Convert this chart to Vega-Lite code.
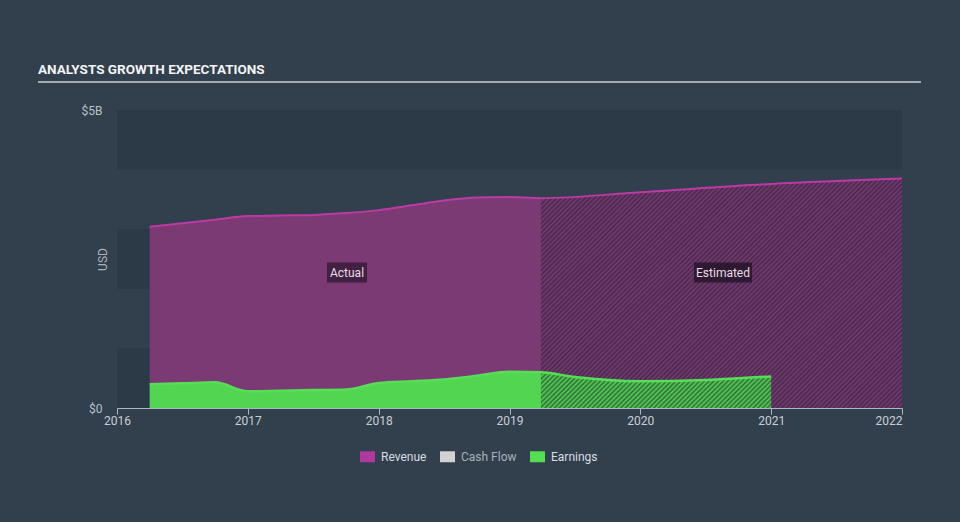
{
  "$schema": "https://vega.github.io/schema/vega-lite/v6.json",
  "width": 785,
  "height": 298,
  "autosize": {"type": "none"},
  "padding": {"left": 117, "top": 110, "right": 58, "bottom": 114},
  "background": "#323f4d",
  "config": {"view": {"stroke": null}, "font": "Roboto"},
  "title": {
    "text": "ANALYSTS GROWTH EXPECTATIONS",
    "anchor": "start",
    "frame": "group",
    "font": "Roboto",
    "fontSize": 13.5,
    "fontWeight": "bold",
    "color": "#f2f4f6",
    "dx": -79,
    "offset": -7,
    "baseline": "alphabetic"
  },
  "datasets": {
    "fin": [
      {"date": 2016.25, "series": "Revenue", "value": 3040000000},
      {"date": 2016.5, "series": "Revenue", "value": 3100000000},
      {"date": 2016.75, "series": "Revenue", "value": 3160000000},
      {"date": 2017.0, "series": "Revenue", "value": 3220000000},
      {"date": 2017.25, "series": "Revenue", "value": 3230000000},
      {"date": 2017.5, "series": "Revenue", "value": 3240000000},
      {"date": 2017.75, "series": "Revenue", "value": 3270000000},
      {"date": 2018.0, "series": "Revenue", "value": 3320000000},
      {"date": 2018.25, "series": "Revenue", "value": 3400000000},
      {"date": 2018.5, "series": "Revenue", "value": 3480000000},
      {"date": 2018.75, "series": "Revenue", "value": 3530000000},
      {"date": 2019.0, "series": "Revenue", "value": 3540000000},
      {"date": 2019.24, "series": "Revenue", "value": 3520000000},
      {"date": 2020.0, "series": "Revenue", "value": 3620000000},
      {"date": 2021.0, "series": "Revenue", "value": 3760000000},
      {"date": 2022.0, "series": "Revenue", "value": 3850000000},
      {"date": 2016.25, "series": "Earnings", "value": 400000000},
      {"date": 2016.5, "series": "Earnings", "value": 415000000},
      {"date": 2016.75, "series": "Earnings", "value": 430000000},
      {"date": 2017.0, "series": "Earnings", "value": 280000000},
      {"date": 2017.25, "series": "Earnings", "value": 290000000},
      {"date": 2017.5, "series": "Earnings", "value": 300000000},
      {"date": 2017.75, "series": "Earnings", "value": 310000000},
      {"date": 2018.0, "series": "Earnings", "value": 420000000},
      {"date": 2018.25, "series": "Earnings", "value": 450000000},
      {"date": 2018.5, "series": "Earnings", "value": 480000000},
      {"date": 2018.75, "series": "Earnings", "value": 540000000},
      {"date": 2019.0, "series": "Earnings", "value": 610000000},
      {"date": 2019.24, "series": "Earnings", "value": 600000000},
      {"date": 2019.5, "series": "Earnings", "value": 520000000},
      {"date": 2020.0, "series": "Earnings", "value": 450000000},
      {"date": 2020.5, "series": "Earnings", "value": 470000000},
      {"date": 2021.0, "series": "Earnings", "value": 530000000}
    ],
    "bands": [
      {"lo": 0, "hi": 1000000000},
      {"lo": 2000000000, "hi": 3000000000},
      {"lo": 4000000000, "hi": 5000000000}
    ],
    "notes": [
      {"label": "Actual", "date": 2017.758, "value": 2273000000},
      {"label": "Estimated", "date": 2020.632, "value": 2273000000}
    ]
  },
  "layer": [
    {
      "data": {"name": "bands"},
      "mark": {"type": "rect", "color": "#2c3947"},
      "encoding": {
        "x": {
          "datum": 2016, "type": "quantitative",
          "scale": {"domain": [2016, 2022], "nice": false},
          "axis": {
            "title": null,
            "values": [2016, 2017, 2018, 2019, 2020, 2021, 2022],
            "format": "d",
            "grid": false,
            "domainColor": "#aeb7bf",
            "tickColor": "#aeb7bf",
            "tickSize": 6,
            "labelColor": "#c8cfd6",
            "labelFont": "Roboto",
            "labelFontSize": 12,
            "labelPadding": 1,
            "labelOverlap": false,
            "labelAlign": {"condition": {"test": "datum.value === 2022", "value": "right"}, "value": "center"}
          }
        },
        "x2": {"datum": 2022},
        "y": {
          "field": "lo", "type": "quantitative",
          "scale": {"domain": [0, 5000000000], "nice": false},
          "axis": {
            "title": "USD",
            "values": [0, 5000000000],
            "labelExpr": "datum.value === 0 ? '$0' : '$5B'",
            "grid": false,
            "domain": false,
            "ticks": false,
            "labelPadding": 15,
            "labelColor": "#b9c1c8",
            "labelFont": "Roboto",
            "labelFontSize": 12,
            "titleColor": "#aab2ba",
            "titleFont": "Roboto",
            "titleFontSize": 12,
            "titleFontWeight": "normal",
            "titleX": -14.5,
            "titleY": 149,
            "titleAlign": "center",
            "titleBaseline": "middle",
            "titleAngle": -90
          }
        },
        "y2": {"field": "hi"}
      }
    },
    {
      "data": {"name": "fin"},
      "transform": [{"filter": "datum.series === 'Revenue'"}],
      "mark": {"type": "area", "color": "#7b3a74", "interpolate": "monotone"},
      "encoding": {
        "x": {"field": "date", "type": "quantitative", "scale": {"domain": [2016, 2022], "nice": false}},
        "y": {"field": "value", "type": "quantitative", "scale": {"domain": [0, 5000000000], "nice": false}}
      }
    },
    {
      "data": {"name": "fin"},
      "transform": [{"filter": "datum.series === 'Earnings'"}],
      "mark": {"type": "area", "color": "#52d652", "interpolate": "monotone"},
      "encoding": {
        "x": {"field": "date", "type": "quantitative", "scale": {"domain": [2016, 2022], "nice": false}},
        "y": {"field": "value", "type": "quantitative", "scale": {"domain": [0, 5000000000], "nice": false}}
      }
    },
    {
      "data": {"name": "fin"},
      "transform": [{"filter": "datum.series === 'Revenue' && datum.date >= 2019.24"}],
      "mark": {
        "type": "area",
        "interpolate": "monotone",
        "fill": {
          "gradient": "linear",
          "x1": 0, "y1": 0, "x2": 1.1645, "y2": 0.7418,
          "stops": [
            {"offset": 0, "color": "#1e1e2d00"}, {"offset": 0.004, "color": "#1e1e2d99"}, {"offset": 0.008, "color": "#1e1e2d00"}, {"offset": 0.012, "color": "#1e1e2d99"}, {"offset": 0.016, "color": "#1e1e2d00"}, {"offset": 0.02, "color": "#1e1e2d99"}, {"offset": 0.024, "color": "#1e1e2d00"}, {"offset": 0.028, "color": "#1e1e2d99"}, {"offset": 0.032, "color": "#1e1e2d00"}, {"offset": 0.036, "color": "#1e1e2d99"},
            {"offset": 0.04, "color": "#1e1e2d00"}, {"offset": 0.044, "color": "#1e1e2d99"}, {"offset": 0.048, "color": "#1e1e2d00"}, {"offset": 0.052, "color": "#1e1e2d99"}, {"offset": 0.056, "color": "#1e1e2d00"}, {"offset": 0.06, "color": "#1e1e2d99"}, {"offset": 0.064, "color": "#1e1e2d00"}, {"offset": 0.068, "color": "#1e1e2d99"}, {"offset": 0.072, "color": "#1e1e2d00"}, {"offset": 0.076, "color": "#1e1e2d99"},
            {"offset": 0.08, "color": "#1e1e2d00"}, {"offset": 0.084, "color": "#1e1e2d99"}, {"offset": 0.088, "color": "#1e1e2d00"}, {"offset": 0.092, "color": "#1e1e2d99"}, {"offset": 0.096, "color": "#1e1e2d00"}, {"offset": 0.1, "color": "#1e1e2d99"}, {"offset": 0.104, "color": "#1e1e2d00"}, {"offset": 0.108, "color": "#1e1e2d99"}, {"offset": 0.112, "color": "#1e1e2d00"}, {"offset": 0.116, "color": "#1e1e2d99"},
            {"offset": 0.12, "color": "#1e1e2d00"}, {"offset": 0.124, "color": "#1e1e2d99"}, {"offset": 0.128, "color": "#1e1e2d00"}, {"offset": 0.132, "color": "#1e1e2d99"}, {"offset": 0.136, "color": "#1e1e2d00"}, {"offset": 0.14, "color": "#1e1e2d99"}, {"offset": 0.144, "color": "#1e1e2d00"}, {"offset": 0.148, "color": "#1e1e2d99"}, {"offset": 0.152, "color": "#1e1e2d00"}, {"offset": 0.156, "color": "#1e1e2d99"},
            {"offset": 0.16, "color": "#1e1e2d00"}, {"offset": 0.164, "color": "#1e1e2d99"}, {"offset": 0.168, "color": "#1e1e2d00"}, {"offset": 0.172, "color": "#1e1e2d99"}, {"offset": 0.176, "color": "#1e1e2d00"}, {"offset": 0.18, "color": "#1e1e2d99"}, {"offset": 0.184, "color": "#1e1e2d00"}, {"offset": 0.188, "color": "#1e1e2d99"}, {"offset": 0.192, "color": "#1e1e2d00"}, {"offset": 0.196, "color": "#1e1e2d99"},
            {"offset": 0.2, "color": "#1e1e2d00"}, {"offset": 0.204, "color": "#1e1e2d99"}, {"offset": 0.208, "color": "#1e1e2d00"}, {"offset": 0.212, "color": "#1e1e2d99"}, {"offset": 0.216, "color": "#1e1e2d00"}, {"offset": 0.22, "color": "#1e1e2d99"}, {"offset": 0.224, "color": "#1e1e2d00"}, {"offset": 0.228, "color": "#1e1e2d99"}, {"offset": 0.232, "color": "#1e1e2d00"}, {"offset": 0.236, "color": "#1e1e2d99"},
            {"offset": 0.24, "color": "#1e1e2d00"}, {"offset": 0.244, "color": "#1e1e2d99"}, {"offset": 0.248, "color": "#1e1e2d00"}, {"offset": 0.252, "color": "#1e1e2d99"}, {"offset": 0.256, "color": "#1e1e2d00"}, {"offset": 0.26, "color": "#1e1e2d99"}, {"offset": 0.264, "color": "#1e1e2d00"}, {"offset": 0.268, "color": "#1e1e2d99"}, {"offset": 0.272, "color": "#1e1e2d00"}, {"offset": 0.276, "color": "#1e1e2d99"},
            {"offset": 0.28, "color": "#1e1e2d00"}, {"offset": 0.284, "color": "#1e1e2d99"}, {"offset": 0.288, "color": "#1e1e2d00"}, {"offset": 0.292, "color": "#1e1e2d99"}, {"offset": 0.296, "color": "#1e1e2d00"}, {"offset": 0.3, "color": "#1e1e2d99"}, {"offset": 0.304, "color": "#1e1e2d00"}, {"offset": 0.308, "color": "#1e1e2d99"}, {"offset": 0.312, "color": "#1e1e2d00"}, {"offset": 0.316, "color": "#1e1e2d99"},
            {"offset": 0.32, "color": "#1e1e2d00"}, {"offset": 0.324, "color": "#1e1e2d99"}, {"offset": 0.328, "color": "#1e1e2d00"}, {"offset": 0.332, "color": "#1e1e2d99"}, {"offset": 0.336, "color": "#1e1e2d00"}, {"offset": 0.34, "color": "#1e1e2d99"}, {"offset": 0.344, "color": "#1e1e2d00"}, {"offset": 0.348, "color": "#1e1e2d99"}, {"offset": 0.352, "color": "#1e1e2d00"}, {"offset": 0.356, "color": "#1e1e2d99"},
            {"offset": 0.36, "color": "#1e1e2d00"}, {"offset": 0.364, "color": "#1e1e2d99"}, {"offset": 0.368, "color": "#1e1e2d00"}, {"offset": 0.372, "color": "#1e1e2d99"}, {"offset": 0.376, "color": "#1e1e2d00"}, {"offset": 0.38, "color": "#1e1e2d99"}, {"offset": 0.384, "color": "#1e1e2d00"}, {"offset": 0.388, "color": "#1e1e2d99"}, {"offset": 0.392, "color": "#1e1e2d00"}, {"offset": 0.396, "color": "#1e1e2d99"},
            {"offset": 0.4, "color": "#1e1e2d00"}, {"offset": 0.404, "color": "#1e1e2d99"}, {"offset": 0.408, "color": "#1e1e2d00"}, {"offset": 0.412, "color": "#1e1e2d99"}, {"offset": 0.416, "color": "#1e1e2d00"}, {"offset": 0.42, "color": "#1e1e2d99"}, {"offset": 0.424, "color": "#1e1e2d00"}, {"offset": 0.428, "color": "#1e1e2d99"}, {"offset": 0.432, "color": "#1e1e2d00"}, {"offset": 0.436, "color": "#1e1e2d99"},
            {"offset": 0.44, "color": "#1e1e2d00"}, {"offset": 0.444, "color": "#1e1e2d99"}, {"offset": 0.448, "color": "#1e1e2d00"}, {"offset": 0.452, "color": "#1e1e2d99"}, {"offset": 0.456, "color": "#1e1e2d00"}, {"offset": 0.46, "color": "#1e1e2d99"}, {"offset": 0.464, "color": "#1e1e2d00"}, {"offset": 0.468, "color": "#1e1e2d99"}, {"offset": 0.472, "color": "#1e1e2d00"}, {"offset": 0.476, "color": "#1e1e2d99"},
            {"offset": 0.48, "color": "#1e1e2d00"}, {"offset": 0.484, "color": "#1e1e2d99"}, {"offset": 0.488, "color": "#1e1e2d00"}, {"offset": 0.492, "color": "#1e1e2d99"}, {"offset": 0.496, "color": "#1e1e2d00"}, {"offset": 0.5, "color": "#1e1e2d99"}, {"offset": 0.504, "color": "#1e1e2d00"}, {"offset": 0.508, "color": "#1e1e2d99"}, {"offset": 0.512, "color": "#1e1e2d00"}, {"offset": 0.516, "color": "#1e1e2d99"},
            {"offset": 0.52, "color": "#1e1e2d00"}, {"offset": 0.524, "color": "#1e1e2d99"}, {"offset": 0.528, "color": "#1e1e2d00"}, {"offset": 0.532, "color": "#1e1e2d99"}, {"offset": 0.536, "color": "#1e1e2d00"}, {"offset": 0.54, "color": "#1e1e2d99"}, {"offset": 0.544, "color": "#1e1e2d00"}, {"offset": 0.548, "color": "#1e1e2d99"}, {"offset": 0.552, "color": "#1e1e2d00"}, {"offset": 0.556, "color": "#1e1e2d99"},
            {"offset": 0.56, "color": "#1e1e2d00"}, {"offset": 0.564, "color": "#1e1e2d99"}, {"offset": 0.568, "color": "#1e1e2d00"}, {"offset": 0.572, "color": "#1e1e2d99"}, {"offset": 0.576, "color": "#1e1e2d00"}, {"offset": 0.58, "color": "#1e1e2d99"}, {"offset": 0.584, "color": "#1e1e2d00"}, {"offset": 0.588, "color": "#1e1e2d99"}, {"offset": 0.592, "color": "#1e1e2d00"}, {"offset": 0.596, "color": "#1e1e2d99"},
            {"offset": 0.6, "color": "#1e1e2d00"}, {"offset": 0.604, "color": "#1e1e2d99"}, {"offset": 0.608, "color": "#1e1e2d00"}, {"offset": 0.612, "color": "#1e1e2d99"}, {"offset": 0.616, "color": "#1e1e2d00"}, {"offset": 0.62, "color": "#1e1e2d99"}, {"offset": 0.624, "color": "#1e1e2d00"}, {"offset": 0.628, "color": "#1e1e2d99"}, {"offset": 0.632, "color": "#1e1e2d00"}, {"offset": 0.636, "color": "#1e1e2d99"},
            {"offset": 0.64, "color": "#1e1e2d00"}, {"offset": 0.644, "color": "#1e1e2d99"}, {"offset": 0.648, "color": "#1e1e2d00"}, {"offset": 0.652, "color": "#1e1e2d99"}, {"offset": 0.656, "color": "#1e1e2d00"}, {"offset": 0.66, "color": "#1e1e2d99"}, {"offset": 0.664, "color": "#1e1e2d00"}, {"offset": 0.668, "color": "#1e1e2d99"}, {"offset": 0.672, "color": "#1e1e2d00"}, {"offset": 0.676, "color": "#1e1e2d99"},
            {"offset": 0.68, "color": "#1e1e2d00"}, {"offset": 0.684, "color": "#1e1e2d99"}, {"offset": 0.688, "color": "#1e1e2d00"}, {"offset": 0.692, "color": "#1e1e2d99"}, {"offset": 0.696, "color": "#1e1e2d00"}, {"offset": 0.7, "color": "#1e1e2d99"}, {"offset": 0.704, "color": "#1e1e2d00"}, {"offset": 0.708, "color": "#1e1e2d99"}, {"offset": 0.712, "color": "#1e1e2d00"}, {"offset": 0.716, "color": "#1e1e2d99"},
            {"offset": 0.72, "color": "#1e1e2d00"}, {"offset": 0.724, "color": "#1e1e2d99"}, {"offset": 0.728, "color": "#1e1e2d00"}, {"offset": 0.732, "color": "#1e1e2d99"}, {"offset": 0.736, "color": "#1e1e2d00"}, {"offset": 0.74, "color": "#1e1e2d99"}, {"offset": 0.744, "color": "#1e1e2d00"}, {"offset": 0.748, "color": "#1e1e2d99"}, {"offset": 0.752, "color": "#1e1e2d00"}, {"offset": 0.756, "color": "#1e1e2d99"},
            {"offset": 0.76, "color": "#1e1e2d00"}, {"offset": 0.764, "color": "#1e1e2d99"}, {"offset": 0.768, "color": "#1e1e2d00"}, {"offset": 0.772, "color": "#1e1e2d99"}, {"offset": 0.776, "color": "#1e1e2d00"}, {"offset": 0.78, "color": "#1e1e2d99"}, {"offset": 0.784, "color": "#1e1e2d00"}, {"offset": 0.788, "color": "#1e1e2d99"}, {"offset": 0.792, "color": "#1e1e2d00"}, {"offset": 0.796, "color": "#1e1e2d99"},
            {"offset": 0.8, "color": "#1e1e2d00"}, {"offset": 0.804, "color": "#1e1e2d99"}, {"offset": 0.808, "color": "#1e1e2d00"}, {"offset": 0.812, "color": "#1e1e2d99"}, {"offset": 0.816, "color": "#1e1e2d00"}, {"offset": 0.82, "color": "#1e1e2d99"}, {"offset": 0.824, "color": "#1e1e2d00"}, {"offset": 0.828, "color": "#1e1e2d99"}, {"offset": 0.832, "color": "#1e1e2d00"}, {"offset": 0.836, "color": "#1e1e2d99"},
            {"offset": 0.84, "color": "#1e1e2d00"}, {"offset": 0.844, "color": "#1e1e2d99"}, {"offset": 0.848, "color": "#1e1e2d00"}, {"offset": 0.852, "color": "#1e1e2d99"}, {"offset": 0.856, "color": "#1e1e2d00"}, {"offset": 0.86, "color": "#1e1e2d99"}, {"offset": 0.864, "color": "#1e1e2d00"}, {"offset": 0.868, "color": "#1e1e2d99"}, {"offset": 0.872, "color": "#1e1e2d00"}, {"offset": 0.876, "color": "#1e1e2d99"},
            {"offset": 0.88, "color": "#1e1e2d00"}, {"offset": 0.884, "color": "#1e1e2d99"}, {"offset": 0.888, "color": "#1e1e2d00"}, {"offset": 0.892, "color": "#1e1e2d99"}, {"offset": 0.896, "color": "#1e1e2d00"}, {"offset": 0.9, "color": "#1e1e2d99"}, {"offset": 0.904, "color": "#1e1e2d00"}, {"offset": 0.908, "color": "#1e1e2d99"}, {"offset": 0.912, "color": "#1e1e2d00"}, {"offset": 0.916, "color": "#1e1e2d99"},
            {"offset": 0.92, "color": "#1e1e2d00"}, {"offset": 0.924, "color": "#1e1e2d99"}, {"offset": 0.928, "color": "#1e1e2d00"}, {"offset": 0.932, "color": "#1e1e2d99"}, {"offset": 0.936, "color": "#1e1e2d00"}, {"offset": 0.94, "color": "#1e1e2d99"}, {"offset": 0.944, "color": "#1e1e2d00"}, {"offset": 0.948, "color": "#1e1e2d99"}, {"offset": 0.952, "color": "#1e1e2d00"}, {"offset": 0.956, "color": "#1e1e2d99"},
            {"offset": 0.96, "color": "#1e1e2d00"}, {"offset": 0.964, "color": "#1e1e2d99"}, {"offset": 0.968, "color": "#1e1e2d00"}, {"offset": 0.972, "color": "#1e1e2d99"}, {"offset": 0.976, "color": "#1e1e2d00"}, {"offset": 0.98, "color": "#1e1e2d99"}, {"offset": 0.984, "color": "#1e1e2d00"}, {"offset": 0.988, "color": "#1e1e2d99"}, {"offset": 0.992, "color": "#1e1e2d00"}, {"offset": 0.996, "color": "#1e1e2d99"},
            {"offset": 1, "color": "#1e1e2d00"}
          ]
        }
      },
      "encoding": {
        "x": {"field": "date", "type": "quantitative", "scale": {"domain": [2016, 2022], "nice": false}},
        "y": {"field": "value", "type": "quantitative", "scale": {"domain": [0, 5000000000], "nice": false}}
      }
    },
    {
      "data": {"name": "fin"},
      "transform": [{"filter": "datum.series === 'Revenue'"}],
      "mark": {"type": "line", "stroke": "#bd3aa5", "strokeWidth": 2, "interpolate": "monotone"},
      "encoding": {
        "x": {"field": "date", "type": "quantitative", "scale": {"domain": [2016, 2022], "nice": false}},
        "y": {"field": "value", "type": "quantitative", "scale": {"domain": [0, 5000000000], "nice": false}}
      }
    },
    {
      "data": {"name": "fin"},
      "transform": [{"filter": "datum.series === 'Earnings'"}],
      "mark": {"type": "line", "stroke": "#56de56", "strokeWidth": 2.5, "interpolate": "monotone"},
      "encoding": {
        "x": {"field": "date", "type": "quantitative", "scale": {"domain": [2016, 2022], "nice": false}},
        "y": {"field": "value", "type": "quantitative", "scale": {"domain": [0, 5000000000], "nice": false}}
      }
    },
    {
      "data": {"name": "fin"},
      "mark": {"type": "square", "opacity": 0},
      "encoding": {
        "x": {"field": "date", "type": "quantitative", "scale": {"domain": [2016, 2022], "nice": false}},
        "y": {"field": "value", "type": "quantitative", "scale": {"domain": [0, 5000000000], "nice": false}},
        "color": {
          "field": "series", "type": "nominal",
          "scale": {"domain": ["Revenue", "Cash Flow", "Earnings"], "range": ["#b0399e", "#d2d2d2", "#52e052"]},
          "legend": {
            "orient": "none",
            "legendX": 243,
            "legendY": 339,
            "direction": "horizontal",
            "title": null,
            "symbolType": "M-1,-0.733H1V0.733H-1Z",
            "symbolSize": 225,
            "symbolOpacity": 1,
            "symbolStrokeWidth": 0,
            "labelFont": "Roboto",
            "labelFontSize": 12,
            "labelColor": "#d8dde2",
            "labelOffset": 6,
            "columnPadding": 13,
            "padding": 0,
            "encode": {"labels": {"update": {"fill": {"signal": "datum.label === 'Cash Flow' ? '#a9b1b9' : '#d8dde2'"}}}}
          }
        }
      }
    },
    {
      "data": {"values": [{}]},
      "mark": {"type": "rule", "stroke": "#a3abb3", "strokeWidth": 2},
      "encoding": {
        "x": {"datum": 2015.396, "type": "quantitative", "scale": {"domain": [2016, 2022], "nice": false}},
        "x2": {"datum": 2022.145},
        "y": {"datum": 5470000000, "type": "quantitative", "scale": {"domain": [0, 5000000000], "nice": false}}
      }
    },
    {
      "data": {"name": "notes"},
      "transform": [{"filter": "datum.label === 'Actual'"}],
      "mark": {"type": "point", "shape": "M-1,-0.5H1V0.5H-1Z", "size": 1600, "filled": true, "color": "#1a0f1f", "opacity": 0.6},
      "encoding": {
        "x": {"field": "date", "type": "quantitative", "scale": {"domain": [2016, 2022], "nice": false}},
        "y": {"field": "value", "type": "quantitative", "scale": {"domain": [0, 5000000000], "nice": false}}
      }
    },
    {
      "data": {"name": "notes"},
      "transform": [{"filter": "datum.label === 'Estimated'"}],
      "mark": {"type": "point", "shape": "M-1,-0.345H1V0.345H-1Z", "size": 3364, "filled": true, "color": "#1a0f1f", "opacity": 0.7},
      "encoding": {
        "x": {"field": "date", "type": "quantitative", "scale": {"domain": [2016, 2022], "nice": false}},
        "y": {"field": "value", "type": "quantitative", "scale": {"domain": [0, 5000000000], "nice": false}}
      }
    },
    {
      "data": {"name": "notes"},
      "mark": {"type": "text", "font": "Roboto", "fontSize": 12, "color": "#e6dee6", "align": "center", "baseline": "middle"},
      "encoding": {
        "x": {"field": "date", "type": "quantitative", "scale": {"domain": [2016, 2022], "nice": false}},
        "y": {"field": "value", "type": "quantitative", "scale": {"domain": [0, 5000000000], "nice": false}},
        "text": {"field": "label"}
      }
    }
  ]
}
